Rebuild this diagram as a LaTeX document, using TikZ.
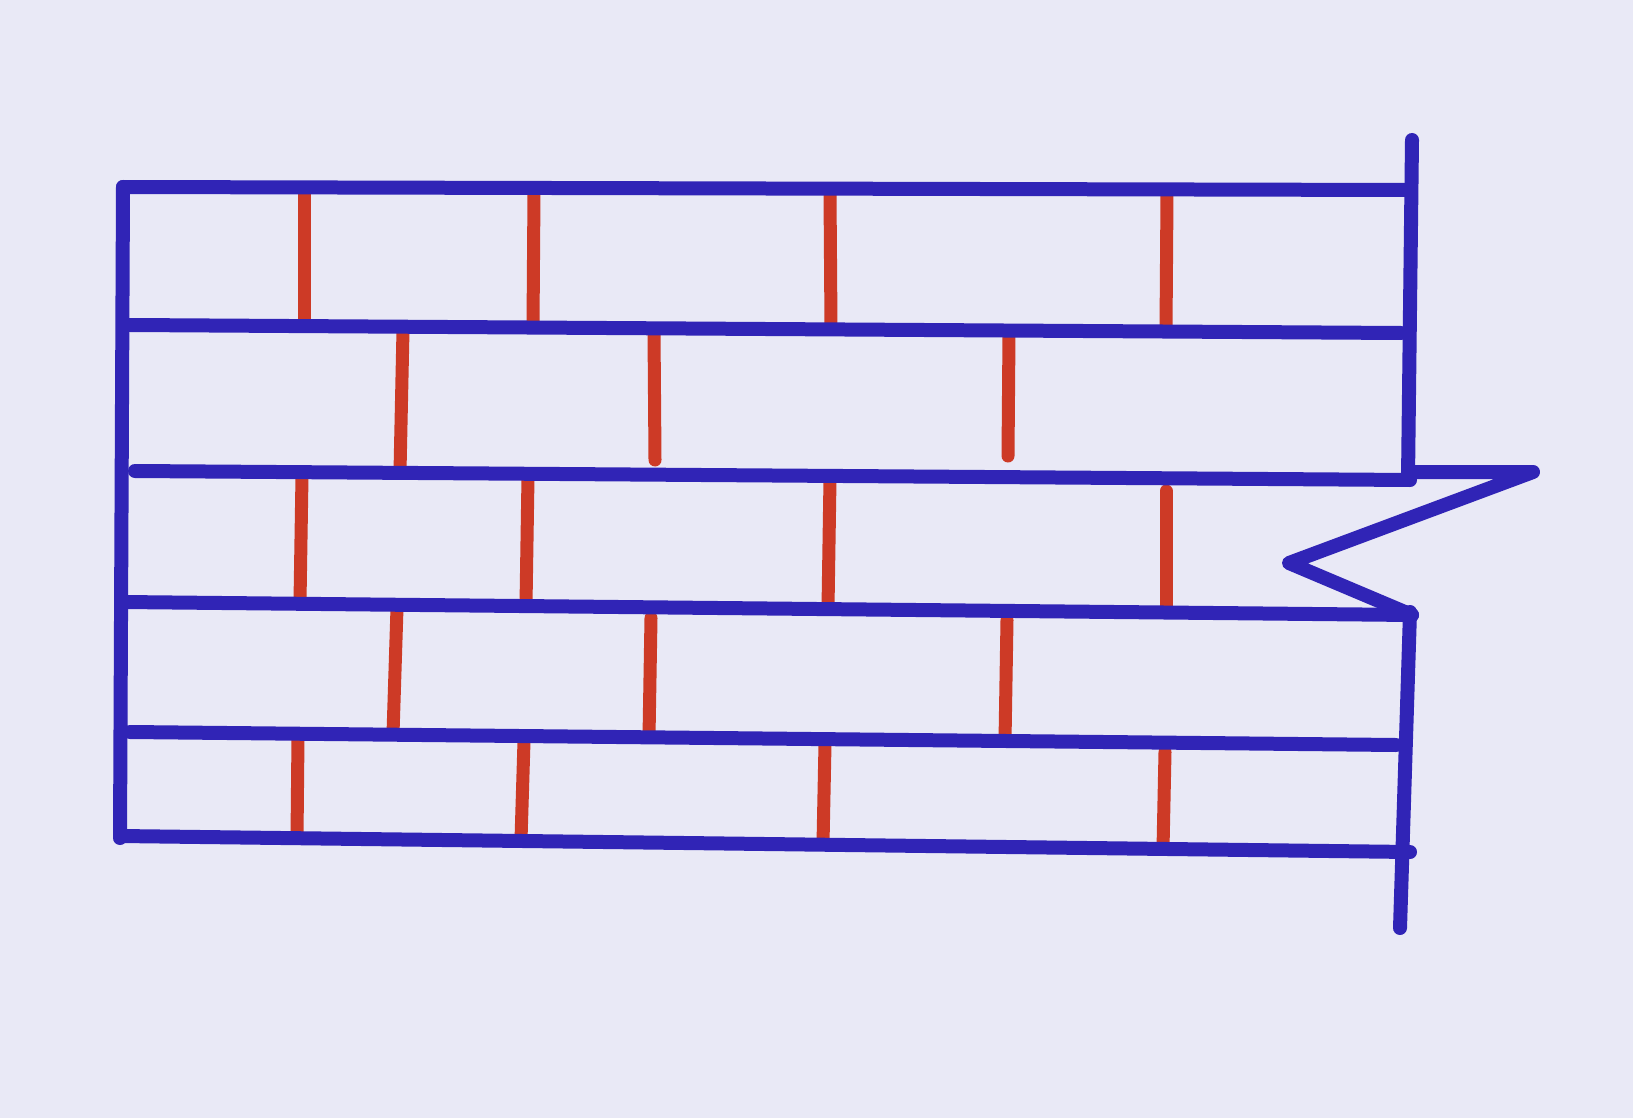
\documentclass[tikz,border=0pt]{standalone}
\begin{document}
\begin{tikzpicture}[x=1pt,y=-1pt,
  blueline/.style={draw=inkblue,line width=14pt,line cap=round,line join=round},
  redline/.style={draw=inkred,line width=13pt,line cap=round}]
\definecolor{inkblue}{RGB}{48,36,182}
\definecolor{inkred}{RGB}{205,58,38}
\definecolor{paper}{RGB}{233,233,246}
\fill[paper] (0,0) rectangle (1633,1118);
\useasboundingbox (0,0) rectangle (1633,1118);
% mortar joints (red)
% row 1
\draw[redline] (304,191) -- (304,325);
\draw[redline] (534,192) -- (533,326);
\draw[redline] (830,193) -- (831,327);
\draw[redline] (1167,194) -- (1166,330);
% row 2
\draw[redline] (403,330) -- (400,472);
\draw[redline] (654,331) -- (655,460);
\draw[redline] (1009,333) -- (1008,456);
% row 3
\draw[redline] (302,476) -- (300,602);
\draw[redline] (528,477) -- (526,605);
\draw[redline] (830,479) -- (828,608);
\draw[redline] (1166,491) -- (1166,612);
% row 4
\draw[redline] (397,608) -- (393,734);
\draw[redline] (651,618) -- (649,737);
\draw[redline] (1007,620) -- (1005,741);
% row 5
\draw[redline] (298,737) -- (297,838);
\draw[redline] (524,741) -- (521,840);
\draw[redline] (825,744) -- (823,844);
\draw[redline] (1165,752) -- (1163,849);
% wall outline (blue)
\coordinate (L1a) at (123,187);  \coordinate (L1b) at (1408,190);
\coordinate (L2a) at (130,325);  \coordinate (L2b) at (1401,333);
\coordinate (L3a) at (135,471);  \coordinate (L3b) at (1410,480);
\coordinate (L4a) at (123,602);  \coordinate (L4b) at (1412,615);
\coordinate (L5a) at (130,732);  \coordinate (L5b) at (1396,745);
\coordinate (L6a) at (120,836);  \coordinate (L6b) at (1410,852);
\draw[blueline] (L1a) -- (L1b);
\draw[blueline] (L2a) -- (L2b);
\draw[blueline] (L3a) -- (L3b);
\draw[blueline] (L4a) -- (L4b);
\draw[blueline] (L5a) -- (L5b);
\draw[blueline] (L6a) -- (L6b);
\draw[blueline] (123,187) -- (120,838);
\coordinate (RT) at (1412,140);
\coordinate (RM) at (1408,472);
\coordinate (Z1) at (1533,472);
\coordinate (Z2) at (1289,563);
\coordinate (Z3) at (1412,615);
\coordinate (RB) at (1400,928);
\draw[blueline] (RT) -- (1408,478);
\draw[blueline] (RM) -- (Z1) -- (Z2) -- (Z3);
\draw[blueline] (1410,612) -- (RB);
\end{tikzpicture}
\end{document}
